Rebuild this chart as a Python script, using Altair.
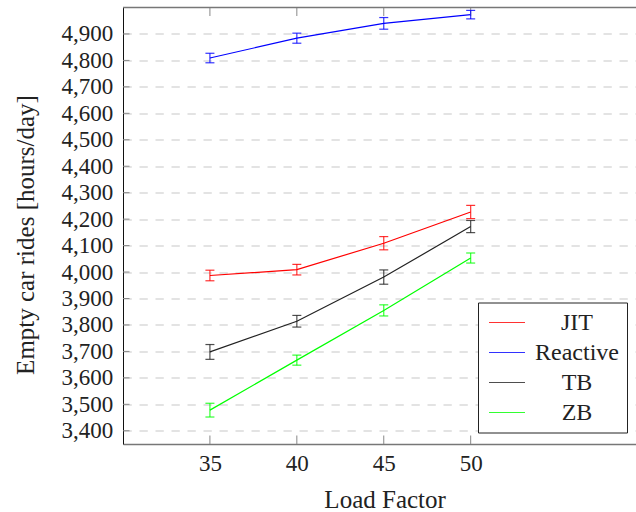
import altair as alt
import pandas as pd

# ---- data ----
load = [35, 40, 45, 50]
series_names = ["JIT", "Reactive", "TB", "ZB"]
jit = [3987, 4009, 4109, 4227]
jit_err = [20, 20, 25, 25]
reactive = [4809, 4884, 4940, 4973]
reactive_err = [18, 19, 22, 16]
tb = [3698, 3814, 3981, 4172]
tb_err = [28, 22, 27, 23]
zb = [3478, 3667, 3855, 4053]
zb_err = [26, 19, 21, 19]
colors = ["#ff0000", "#0000ff", "#222222", "#00ff00"]
y_tick_values = list(range(3400, 5000, 100))
x_tick_values = [35, 40, 45, 50]

rows = []
for name, vals, errs in zip(series_names, [jit, reactive, tb, zb],
                            [jit_err, reactive_err, tb_err, zb_err]):
    for x, v, e in zip(load, vals, errs):
        rows.append({"series": name, "load": x, "value": v, "lo": v - e, "hi": v + e})
df = pd.DataFrame(rows)

W, H = 513, 436.5
FONT = "Liberation Serif"

xscale = alt.Scale(domain=[30, 59.51], nice=False, zero=False)
yscale = alt.Scale(domain=[3350, 5000], nice=False, zero=False)

xaxis = alt.Axis(values=x_tick_values, title="Load Factor", grid=False, ticks=False,
                 labelFont=FONT, labelFontSize=23, labelColor="#222",
                 labelBaseline="alphabetic", labelPadding=26.7,
                 titleFont=FONT, titleFontSize=25, titleFontWeight="normal",
                 titleColor="#222", titleBaseline="alphabetic", titleX=261.6, titleY=63.5,
                 domainColor="#777", domainWidth=1.5)
yaxis = alt.Axis(values=y_tick_values, format=",d", title="Empty car rides [hours/day]",
                 grid=True, gridDash=[8.3, 7.7], gridColor="#c8c8c8", gridWidth=1.2,
                 ticks=False, labelFont=FONT, labelFontSize=23, labelColor="#222",
                 labelPadding=10.3,
                 titleFont=FONT, titleFontSize=25, titleFontWeight="normal",
                 titleColor="#222", titleBaseline="alphabetic", titleX=-90, titleY=227,
                 domainColor="#111", domainWidth=1)

color_scale = alt.Scale(domain=series_names, range=colors)
legend = alt.Legend(
    title=None, orient="none", legendX=355, legendY=295,
    symbolType="M-2,0H2", symbolSize=324, symbolStrokeWidth=1.2, symbolOffset=9,
    labelFont=FONT, labelFontSize=24, labelColor="#222",
    labelAlign="center", labelOffset=58,
    fillColor="white", strokeColor="#222", padding=8, rowPadding=6,
    cornerRadius=0)

X = alt.X("load:Q", scale=xscale, axis=xaxis)
C = alt.Color("series:N", scale=color_scale, legend=legend)

base = alt.Chart(df)

lines = base.mark_line(strokeWidth=1.2).encode(
    x=X, y=alt.Y("value:Q", scale=yscale, axis=yaxis), color=C)

bars = base.mark_rule(strokeWidth=1.2, opacity=0.8).encode(
    x=X, y=alt.Y("lo:Q", scale=yscale, axis=yaxis), y2="hi:Q", color=C)
cap_lo = base.mark_tick(orient="horizontal", size=9, thickness=1.2, opacity=0.8).encode(
    x=X, y=alt.Y("lo:Q", scale=yscale, axis=yaxis), color=C)
cap_hi = base.mark_tick(orient="horizontal", size=9, thickness=1.2, opacity=0.8).encode(
    x=X, y=alt.Y("hi:Q", scale=yscale, axis=yaxis), color=C)

ytick_df = pd.DataFrame({"value": y_tick_values})
xtick_df = pd.DataFrame({"load": x_tick_values})

yticks = alt.Chart(ytick_df).mark_rule(color="#888", strokeWidth=1).encode(
    y=alt.Y("value:Q", scale=yscale, axis=yaxis), x=alt.value(0), x2=alt.value(6.5))
xticks_bottom = alt.Chart(xtick_df).mark_rule(color="#888", strokeWidth=1).encode(
    x=X, y=alt.value(H), y2=alt.value(H - 8.5))
xticks_top = alt.Chart(xtick_df).mark_rule(color="#888", strokeWidth=1).encode(
    x=X, y=alt.value(0), y2=alt.value(8.5))
top_border = alt.Chart(pd.DataFrame({"a": [0]})).mark_rule(color="#777", strokeWidth=1.5).encode(
    x=alt.value(0), x2=alt.value(W), y=alt.value(0))

chart = alt.layer(
    lines, yticks, xticks_bottom, xticks_top, top_border, bars, cap_lo, cap_hi
).properties(
    width=W, height=H,
    padding={"left": 123, "top": 7.5, "right": 0, "bottom": 68},
    background="white",
).configure(
    autosize=alt.AutoSizeParams(type="none"),
    font=FONT,
).configure_axis(
    labelFont=FONT, titleFont=FONT,
).configure_legend(
    labelFont=FONT,
).configure_view(stroke=None)

chart.save("out.html", embed_options={"renderer": "svg", "actions": False})
